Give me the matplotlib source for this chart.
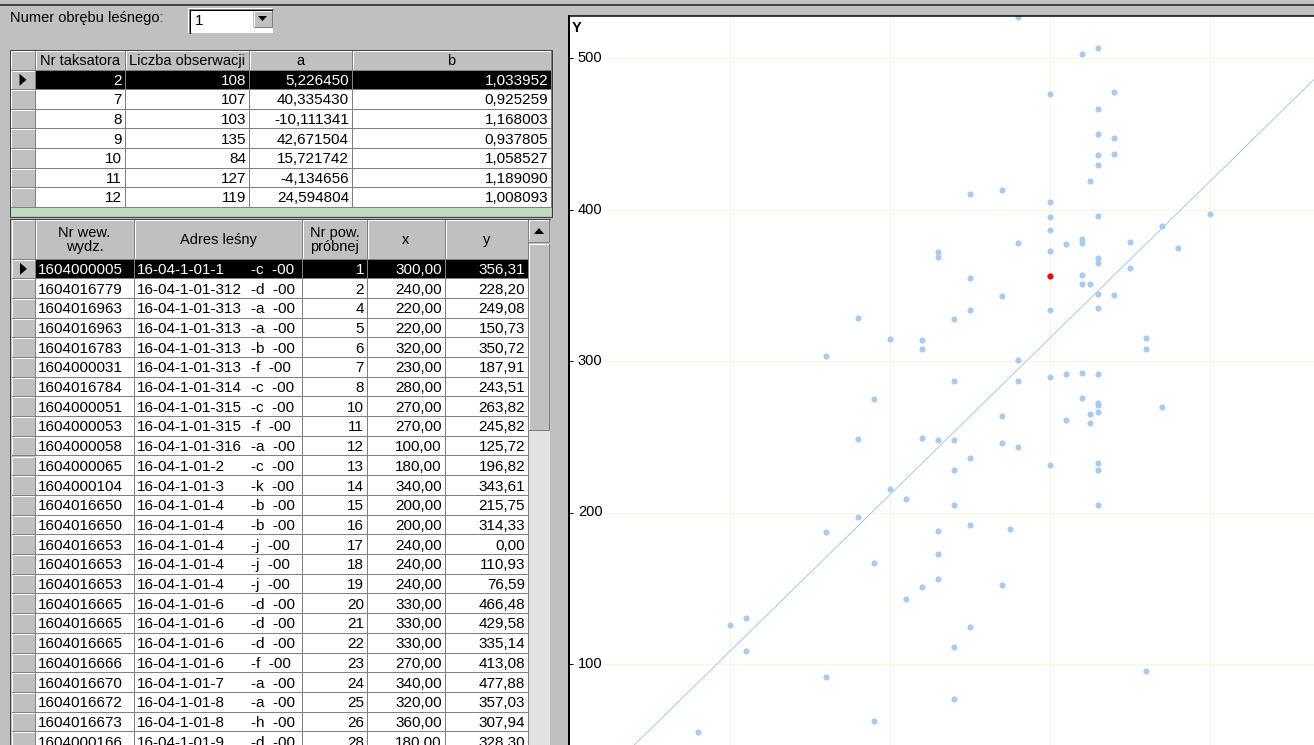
import matplotlib.pyplot as plt
from matplotlib.patches import Rectangle, Polygon

plt.rcParams['font.family'] = ['Liberation Sans', 'DejaVu Sans']

# taksatorzy w obrębie 1
nr_taksatora = [2, 7, 8, 9, 10, 11, 12]
liczba_obs = [108, 107, 103, 135, 84, 127, 119]
a_wsp = [5.226450, 40.335430, -10.111341, 42.671504, 15.721742, -4.134656, 24.594804]
b_wsp = [1.033952, 0.925259, 1.168003, 0.937805, 1.058527, 1.189090, 1.008093]

# powierzchnie próbne (widoczne wiersze tabeli)
nr_wew = ['1604000005', '1604016779', '1604016963', '1604016963', '1604016783',
          '1604000031', '1604016784', '1604000051', '1604000053', '1604000058',
          '1604000065', '1604000104', '1604016650', '1604016650', '1604016653',
          '1604016653', '1604016653', '1604016665', '1604016665', '1604016665',
          '1604016666', '1604016670', '1604016672', '1604016673', '1604000166']
adres_baza = ['16-04-1-01-1', '16-04-1-01-312', '16-04-1-01-313', '16-04-1-01-313',
              '16-04-1-01-313', '16-04-1-01-313', '16-04-1-01-314', '16-04-1-01-315',
              '16-04-1-01-315', '16-04-1-01-316', '16-04-1-01-2', '16-04-1-01-3',
              '16-04-1-01-4', '16-04-1-01-4', '16-04-1-01-4', '16-04-1-01-4',
              '16-04-1-01-4', '16-04-1-01-6', '16-04-1-01-6', '16-04-1-01-6',
              '16-04-1-01-6', '16-04-1-01-7', '16-04-1-01-8', '16-04-1-01-8',
              '16-04-1-01-9']
adres_litera = ['c', 'd', 'a', 'a', 'b', 'f', 'c', 'c', 'f', 'a', 'c', 'k', 'b',
                'b', 'j', 'j', 'j', 'd', 'd', 'd', 'f', 'a', 'a', 'h', 'd']
nr_pow = [1, 2, 4, 5, 6, 7, 8, 10, 11, 12, 13, 14, 15, 16, 17, 18, 19, 20, 21,
          22, 23, 24, 25, 26, 28]
x_pow = [300, 240, 220, 220, 320, 230, 280, 270, 270, 100, 180, 340, 200, 200,
         240, 240, 240, 330, 330, 330, 270, 340, 320, 360, 180]
y_pow = [356.31, 228.20, 249.08, 150.73, 350.72, 187.91, 243.51, 263.82, 245.82,
         125.72, 196.82, 343.61, 215.75, 314.33, 0.00, 110.93, 76.59, 466.48,
         429.58, 335.14, 413.08, 477.88, 357.03, 307.94, 328.30]

# pozostałe punkty widoczne na wykresie
x_reszta = [220, 220, 160, 230, 230, 280, 320, 330, 300, 330, 340, 330, 340, 325,
            250, 300, 300, 330, 400, 370, 300, 280, 310, 320, 320, 350, 300, 380,
            330, 330, 250, 325, 350, 270, 330, 250, 300, 240, 360, 280, 240, 280,
            300, 310, 320, 330, 320, 330, 330, 325, 330, 325, 370, 310, 230, 240,
            250, 300, 330, 330, 240, 330, 250, 275, 230, 230, 270, 250, 360, 190,
            180, 210, 160, 190, 210, 110, 110, 160, 190, 80]
y_reszta = [313.9, 307.7, 303.3, 372.2, 368.9, 527.0, 502.6, 506.8, 476.4, 449.6,
            447.2, 435.8, 436.6, 418.6, 410.0, 404.7, 395.0, 395.9, 396.8, 389.1,
            386.5, 377.9, 377.0, 380.3, 377.9, 378.8, 372.6, 374.4, 367.8, 364.9,
            354.6, 351.0, 361.4, 343.1, 344.0, 333.7, 333.7, 327.5, 315.4, 300.9,
            286.8, 286.8, 289.6, 291.4, 292.3, 291.4, 275.6, 272.0, 270.8, 265.2,
            266.1, 259.3, 269.6, 261.0, 248.0, 248.0, 236.0, 231.6, 232.5, 228.0,
            204.7, 204.7, 191.7, 189.1, 172.6, 156.1, 151.9, 124.2, 95.6, 274.7,
            248.7, 208.9, 187.3, 166.5, 143.1, 130.2, 108.6, 91.2, 62.6, 54.9]
wybrany = 0  # zaznaczony taksator i zaznaczona powierzchnia

W, H = 1314, 745
PX = 0.72
SZARY = '#C0C0C0'
NIEBIESKI = '#A6CAF0'
FS = 10.5     # etykiety
FS_KOM = 11   # zawartość komórek


def pl(v, n):
    return f"{v:.{n}f}".replace('.', ',')


fig = plt.figure(figsize=(W / 100, H / 100), dpi=100, facecolor=SZARY)
ui = fig.add_axes([0, 0, 1, 1])
ui.set_xlim(0, W)
ui.set_ylim(H, 0)
ui.axis('off')


def rect(x0, y0, x1, y1, face, edge='none'):
    ui.add_patch(Rectangle((x0, y0), x1 - x0, y1 - y0, facecolor=face,
                           edgecolor=edge, lw=PX))


def bevel(x0, y0, x1, y1, face=SZARY, raised=True):
    rect(x0, y0, x1, y1, face)
    lt, rb = ('white', '#808080') if raised else ('#808080', 'white')
    ui.plot([x0 + 0.5, x0 + 0.5, x1 - 0.5], [y1 - 0.5, y0 + 0.5, y0 + 0.5], color=lt, lw=PX)
    ui.plot([x0 + 0.5, x1 - 0.5, x1 - 0.5], [y1 - 0.5, y1 - 0.5, y0 + 0.5], color=rb, lw=PX)


def arrow_right(x0, y0, x1, y1):
    cx, cy = (x0 + x1) / 2, (y0 + y1) / 2
    ui.add_patch(Polygon([[cx - 3, cy - 6], [cx - 3, cy + 6], [cx + 4, cy]],
                         closed=True, facecolor='black', edgecolor='none'))


# pasek u góry
ui.plot([0, W], [4.5, 4.5], color='#404040', lw=2 * PX)

# wybór obrębu
ui.text(10, 18, 'Numer obrębu leśnego:', fontsize=FS, va='center', ha='left')
rect(188, 8, 273, 33, 'white')
ui.plot([188.5, 188.5, 273], [33, 8.5, 8.5], color='#808080', lw=PX)
ui.plot([189.5, 189.5, 272], [33, 9.5, 9.5], color='black', lw=PX)
ui.text(195, 21, '1', fontsize=FS_KOM, va='center', ha='left')
bevel(253, 10, 272, 27)
ui.add_patch(Polygon([[258, 16], [267, 16], [262.5, 21]], closed=True,
                     facecolor='black', edgecolor='none'))

# tabela taksatorów
t1_cols = [10, 35, 125, 249, 352, 551]
t1_top, t1_head, t1_row = 50, 20, 19.6
t1_bottom = 216
rect(t1_cols[0], t1_top, t1_cols[-1], t1_bottom, '#C0DCC0')
naglowki1 = ['Nr taksatora', 'Liczba obserwacji', 'a', 'b']
bevel(t1_cols[0], t1_top, t1_cols[1], t1_top + t1_head)
for j, txt in enumerate(naglowki1):
    bevel(t1_cols[j + 1], t1_top, t1_cols[j + 2], t1_top + t1_head)
    ui.text((t1_cols[j + 1] + t1_cols[j + 2]) / 2, t1_top + t1_head / 2 + 1, txt,
            fontsize=FS, ha='center', va='center')
for i in range(len(nr_taksatora)):
    y0 = t1_top + t1_head + i * t1_row
    y1 = y0 + t1_row
    bevel(t1_cols[0], y0, t1_cols[1], y1)
    sel = i == wybrany
    rect(t1_cols[1], y0, t1_cols[-1], y1, 'black' if sel else 'white')
    if sel:
        arrow_right(t1_cols[0], y0, t1_cols[1], y1)
    vals = [str(nr_taksatora[i]), str(liczba_obs[i]), pl(a_wsp[i], 6), pl(b_wsp[i], 6)]
    for j, v in enumerate(vals):
        ui.plot([t1_cols[j + 2] - 0.5] * 2, [y0, y1], color='#808080', lw=PX)
        ui.text(t1_cols[j + 2] - 3, (y0 + y1) / 2 + 1, v, fontsize=FS_KOM, ha='right',
                va='center', color='white' if sel else 'black')
    ui.plot([t1_cols[1], t1_cols[-1]], [y1 - 0.5] * 2, color='#808080', lw=PX)
ui.add_patch(Rectangle((t1_cols[0] - 0.5, t1_top - 0.5), t1_cols[-1] - t1_cols[0] + 1,
                       t1_bottom - t1_top + 1, facecolor='none', edgecolor='#404040', lw=PX))

# tabela powierzchni
t2_cols = [11, 35, 134, 302, 367, 445, 528]
t2_top, t2_head, t2_row = 219, 40, 19.7
naglowki2 = ['Nr wew.\nwydz.', 'Adres leśny', 'Nr pow.\npróbnej', 'x', 'y']
bevel(t2_cols[0], t2_top, t2_cols[1], t2_top + t2_head)
for j, txt in enumerate(naglowki2):
    bevel(t2_cols[j + 1], t2_top, t2_cols[j + 2], t2_top + t2_head)
    ui.text((t2_cols[j + 1] + t2_cols[j + 2]) / 2, t2_top + t2_head / 2 + 1, txt,
            fontsize=FS, ha='center', va='center', linespacing=1.05)
for i in range(len(nr_wew)):
    y0 = t2_top + t2_head + i * t2_row
    y1 = y0 + t2_row
    yc = (y0 + y1) / 2 + 1
    bevel(t2_cols[0], y0, t2_cols[1], y1)
    sel = i == wybrany
    rect(t2_cols[1], y0, t2_cols[-1], y1, 'black' if sel else 'white')
    kol = 'white' if sel else 'black'
    if sel:
        arrow_right(t2_cols[0], y0, t2_cols[1], y1)
    for c in t2_cols[2:]:
        ui.plot([c - 0.5] * 2, [y0, y1], color='#808080', lw=PX)
    ui.plot([t2_cols[1], t2_cols[-1]], [y1 - 0.5] * 2, color='#808080', lw=PX)
    ui.text(t2_cols[1] + 3, yc, nr_wew[i], fontsize=FS_KOM, ha='left', va='center', color=kol)
    ui.text(t2_cols[2] + 3, yc, adres_baza[i], fontsize=FS_KOM, ha='left', va='center', color=kol)
    ui.text(t2_cols[2] + 117, yc, f'-{adres_litera[i]}  -00', fontsize=FS_KOM, ha='left',
            va='center', color=kol)
    ui.text(t2_cols[4] - 3, yc, str(nr_pow[i]), fontsize=FS_KOM, ha='right', va='center', color=kol)
    ui.text(t2_cols[5] - 3, yc, pl(x_pow[i], 2), fontsize=FS_KOM, ha='right', va='center', color=kol)
    ui.text(t2_cols[6] - 3, yc, pl(y_pow[i], 2), fontsize=FS_KOM, ha='right', va='center', color=kol)

# pasek przewijania
rect(528, 243, 550, H, '#E2E2E2')
bevel(528, t2_top, 549, 242)
ui.add_patch(Polygon([[534, 234], [544, 234], [539, 228]], closed=True,
                     facecolor='black', edgecolor='none'))
bevel(528, 243, 549, 430)
ui.plot([9.5, 9.5], [t2_top, H], color='#404040', lw=PX)
ui.plot([9.5, 550], [t2_top - 0.5] * 2, color='#404040', lw=PX)

# wykres
left_px, top_px = 569, 16
x0_px, x_skala = 570.3, 1.6      # piksel dla x = 0, pikseli na jednostkę
y0_px, y_skala = 815.5, 1.515
ax = fig.add_axes([left_px / W, 0, (W - left_px) / W, (H - top_px) / H])
ax.set_xlim((left_px - x0_px) / x_skala, (W - x0_px) / x_skala)
ax.set_ylim((y0_px - H) / y_skala, (y0_px - top_px) / y_skala)
ax.set_facecolor('white')
ax.set_xticks([100, 200, 300, 400])
ax.set_yticks([100, 200, 300, 400, 500])
ax.grid(True, color='#FFF3DD', lw=PX)
ax.set_axisbelow(True)
ax.tick_params(axis='y', direction='in', length=3, width=PX, labelleft=False)
ax.tick_params(axis='x', length=0, labelbottom=False)
for s in ['right', 'bottom']:
    ax.spines[s].set_visible(False)
ax.spines['left'].set_linewidth(2 * PX)
ax.spines['top'].set_linewidth(1.5 * PX)
ytr = ax.get_yaxis_transform()
for v in [100, 200, 300, 400, 500]:
    ax.text(0.012, v, str(v), transform=ytr, fontsize=FS, ha='left', va='center')
fig.text(572 / W, 1 - 28 / H, 'Y', fontsize=FS, fontweight='bold', ha='left', va='center')

ax.axline((0, a_wsp[wybrany]), slope=b_wsp[wybrany], color=NIEBIESKI, lw=PX)
ax.plot(x_pow + x_reszta, y_pow + y_reszta, 'o', ms=4.4, color=NIEBIESKI, mec='none')
ax.plot([x_pow[wybrany]], [y_pow[wybrany]], 'o', ms=4.4, color='#FF0000', mec='none')

fig.savefig('out.png', dpi=100, facecolor=SZARY)
